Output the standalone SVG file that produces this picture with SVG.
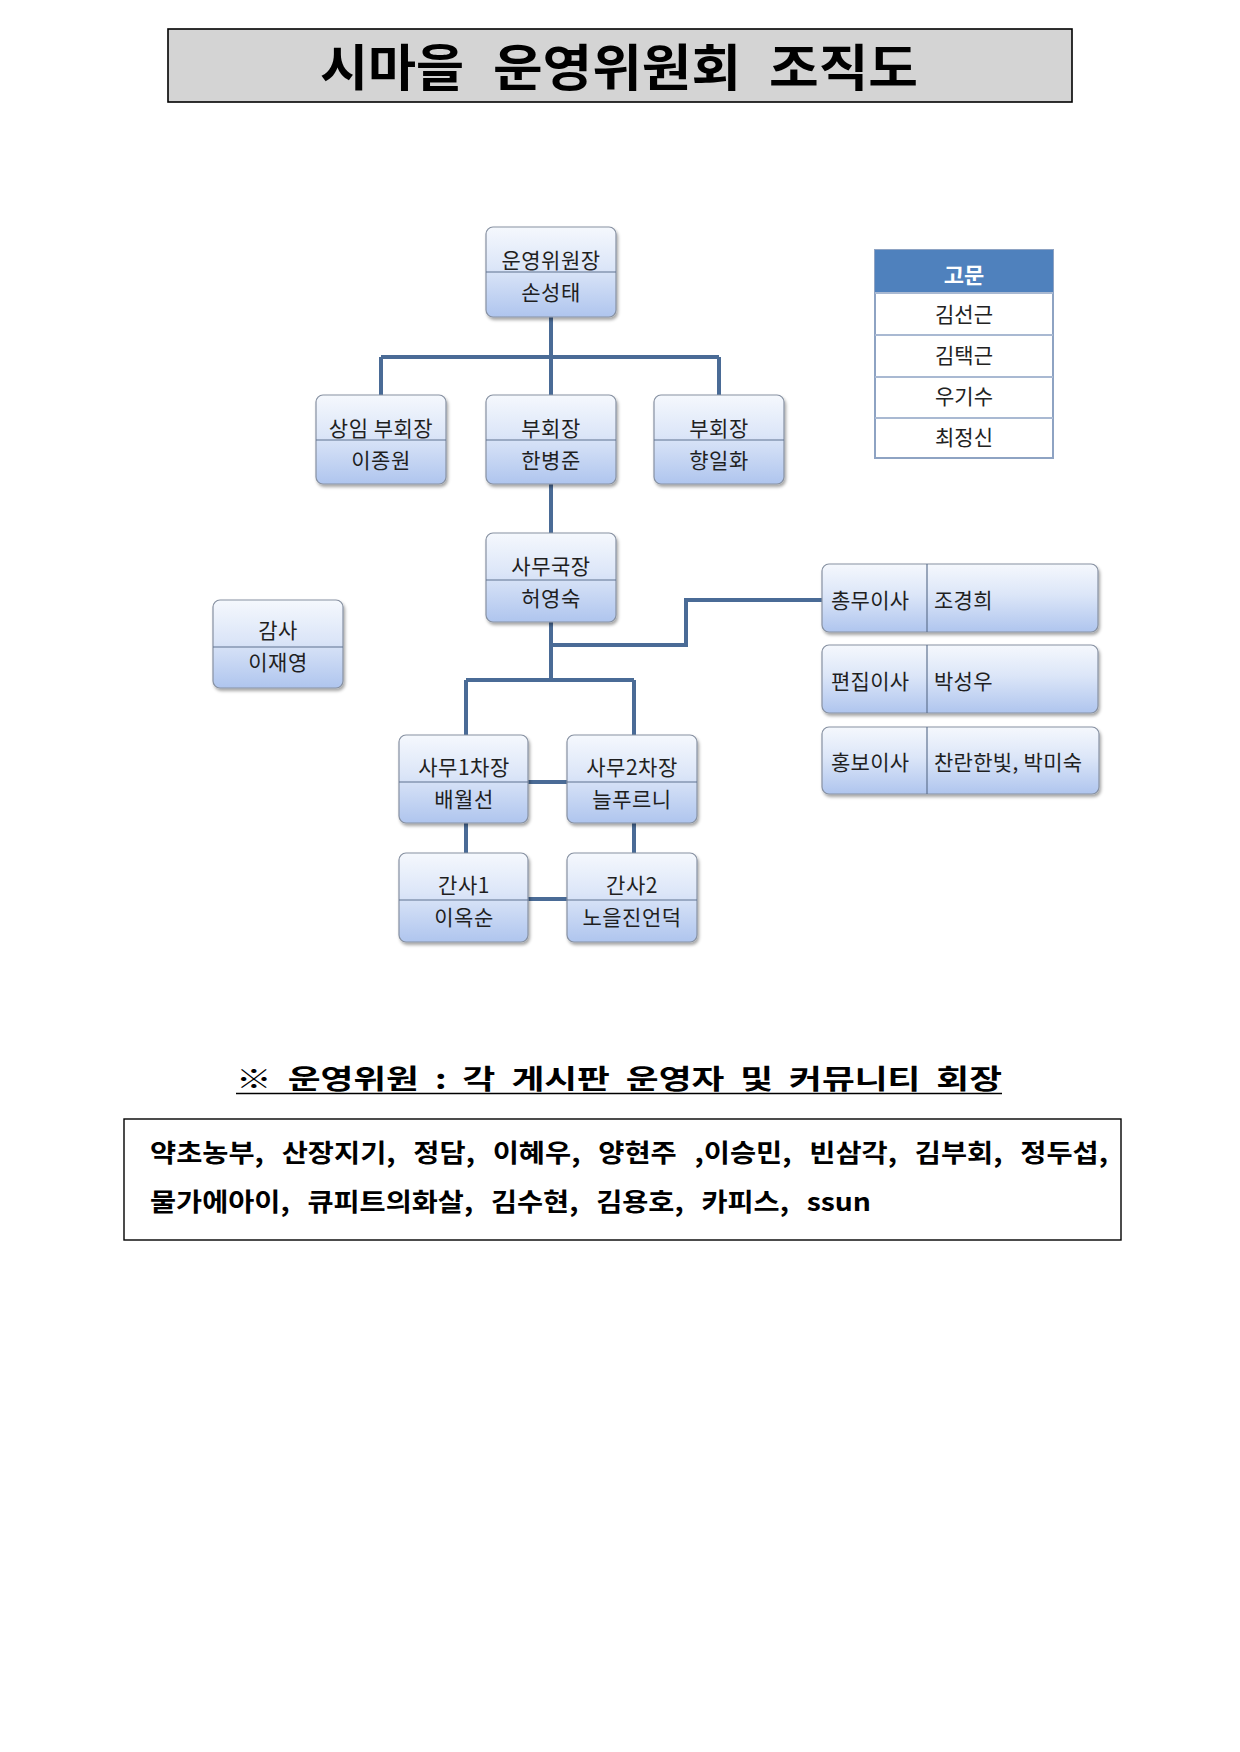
<svg xmlns="http://www.w3.org/2000/svg" width="1240" height="1752" viewBox="0 0 1240 1752">
<defs>
<linearGradient id="ng" x1="0" y1="0" x2="0" y2="1">
<stop offset="0" stop-color="#f5f8fd"/>
<stop offset="0.45" stop-color="#dce6f8"/>
<stop offset="1" stop-color="#afc5ee"/>
</linearGradient>
<filter id="sh" x="-10%" y="-10%" width="125%" height="135%">
<feDropShadow dx="1.5" dy="2.5" stdDeviation="1.6" flood-color="#000" flood-opacity="0.35"/>
</filter>
</defs>
<style>
text{font-family:"Noto Sans CJK KR","Noto Sans CJK SC",sans-serif}
.box{fill:url(#ng);stroke:#8791a2;stroke-width:1.2;filter:url(#sh)}
.dv{stroke:#5f7290;stroke-width:1.2}
.lb{font-size:21px;fill:#1f1f1f;text-anchor:middle;letter-spacing:0.5px}
.ls{font-size:21px;fill:#1f1f1f;letter-spacing:0.3px}
.con{fill:none;stroke:#4a6b96;stroke-width:4}
.gm{font-size:21px;fill:#222;text-anchor:middle}
.row{stroke:#a9b9d2;stroke-width:2}
</style>
<rect width="1240" height="1752" fill="#fff"/>

<g id="title">
<rect x="168" y="29" width="904" height="73" fill="#d4d4d4" stroke="#000" stroke-width="1.6"/>
<text y="86" font-size="50" font-weight="700" fill="#000"><tspan x="320" textLength="144" lengthAdjust="spacingAndGlyphs">시마을</tspan><tspan x="493" textLength="248" lengthAdjust="spacingAndGlyphs">운영위원회</tspan><tspan x="769" textLength="149" lengthAdjust="spacingAndGlyphs">조직도</tspan></text>
</g>

<g id="connectors">
<path class="con" d="M551 317V357M381 357H719M381 357V395M551 357V395M719 357V395"/>
<path class="con" d="M551 484V533"/>
<path class="con" d="M551 622V680M551 645H686V600H822"/>
<path class="con" d="M466 680H634M466 680V735M634 680V735"/>
<path class="con" d="M528 782H567"/>
<path class="con" d="M466 823V853M634 823V853"/>
<path class="con" d="M528 899H567"/>
</g>

<g id="n-chair">
<rect class="box" x="486" y="227" width="130" height="90" rx="7"/>
<line class="dv" x1="486" y1="272" x2="616" y2="272"/>
<text class="lb" x="551" y="268">운영위원장</text>
<text class="lb" x="551" y="300">손성태</text>
</g>

<g id="n-vice1">
<rect class="box" x="316" y="395" width="130" height="89" rx="7"/>
<line class="dv" x1="316" y1="440" x2="446" y2="440"/>
<text class="lb" x="381" y="436">상임 부회장</text>
<text class="lb" x="381" y="468">이종원</text>
</g>

<g id="n-vice2">
<rect class="box" x="486" y="395" width="130" height="89" rx="7"/>
<line class="dv" x1="486" y1="440" x2="616" y2="440"/>
<text class="lb" x="551" y="436">부회장</text>
<text class="lb" x="551" y="468">한병준</text>
</g>

<g id="n-vice3">
<rect class="box" x="654" y="395" width="130" height="89" rx="7"/>
<line class="dv" x1="654" y1="440" x2="784" y2="440"/>
<text class="lb" x="719" y="436">부회장</text>
<text class="lb" x="719" y="468">향일화</text>
</g>

<g id="n-office">
<rect class="box" x="486" y="533" width="130" height="89" rx="7"/>
<line class="dv" x1="486" y1="580" x2="616" y2="580"/>
<text class="lb" x="551" y="574">사무국장</text>
<text class="lb" x="551" y="606">허영숙</text>
</g>

<g id="n-audit">
<rect class="box" x="213" y="600" width="130" height="88" rx="7"/>
<line class="dv" x1="213" y1="647" x2="343" y2="647"/>
<text class="lb" x="278" y="638">감사</text>
<text class="lb" x="278" y="670">이재영</text>
</g>

<g id="n-deputy1">
<rect class="box" x="399" y="735" width="129" height="88" rx="7"/>
<line class="dv" x1="399" y1="782" x2="528" y2="782"/>
<text class="lb" x="464" y="775">사무1차장</text>
<text class="lb" x="464" y="807">배월선</text>
</g>

<g id="n-deputy2">
<rect class="box" x="567" y="735" width="130" height="88" rx="7"/>
<line class="dv" x1="567" y1="782" x2="697" y2="782"/>
<text class="lb" x="632" y="775">사무2차장</text>
<text class="lb" x="632" y="807">늘푸르니</text>
</g>

<g id="n-sec1">
<rect class="box" x="399" y="853" width="129" height="89" rx="7"/>
<line class="dv" x1="399" y1="900" x2="528" y2="900"/>
<text class="lb" x="464" y="893">간사1</text>
<text class="lb" x="464" y="925">이옥순</text>
</g>

<g id="n-sec2">
<rect class="box" x="567" y="853" width="130" height="89" rx="7"/>
<line class="dv" x1="567" y1="900" x2="697" y2="900"/>
<text class="lb" x="632" y="893">간사2</text>
<text class="lb" x="632" y="925">노을진언덕</text>
</g>

<g id="n-general">
<rect class="box" x="822" y="564" width="276" height="68" rx="7"/>
<line class="dv" x1="927" y1="564" x2="927" y2="632"/>
<text class="ls" x="831" y="608">총무이사</text>
<text class="ls" x="934" y="608">조경희</text>
</g>

<g id="n-edit">
<rect class="box" x="822" y="645" width="276" height="68" rx="7"/>
<line class="dv" x1="927" y1="645" x2="927" y2="713"/>
<text class="ls" x="831" y="689">편집이사</text>
<text class="ls" x="934" y="689">박성우</text>
</g>

<g id="n-pr">
<rect class="box" x="822" y="727" width="277" height="67" rx="7"/>
<line class="dv" x1="927" y1="727" x2="927" y2="794"/>
<text class="ls" x="831" y="770">홍보이사</text>
<text class="ls" x="934" y="770">찬란한빛, 박미숙</text>
</g>

<g id="advisors">
<rect x="875" y="250" width="178" height="208" fill="#fff" stroke="#8ea3c3" stroke-width="2"/>
<rect x="875" y="250" width="178" height="43" fill="#4f81bd"/>
<line class="row" x1="875" y1="293" x2="1053" y2="293"/>
<line class="row" x1="875" y1="335" x2="1053" y2="335"/>
<line class="row" x1="875" y1="377" x2="1053" y2="377"/>
<line class="row" x1="875" y1="418" x2="1053" y2="418"/>
<text x="964" y="283" font-size="22" font-weight="700" fill="#fff" text-anchor="middle">고문</text>
<text class="gm" x="964" y="322">김선근</text>
<text class="gm" x="964" y="363">김택근</text>
<text class="gm" x="964" y="404">우기수</text>
<text class="gm" x="964" y="445">최정신</text>
</g>

<g id="members-title">
<text x="236" y="1089" font-size="27" font-weight="700" fill="#000" word-spacing="6" textLength="766" lengthAdjust="spacingAndGlyphs">※ 운영위원 : 각 게시판 운영자 및 커뮤니티 회장</text>
<line x1="236" y1="1093.5" x2="1002" y2="1093.5" stroke="#000" stroke-width="1.6"/>
</g>

<g id="members">
<rect x="124" y="1119" width="997" height="121" fill="#fff" stroke="#000" stroke-width="1.4"/>
<text x="150" y="1162" font-size="25" font-weight="700" fill="#000" word-spacing="10" textLength="958" lengthAdjust="spacingAndGlyphs">약초농부, 산장지기, 정담, 이혜우, 양현주 ,이승민, 빈삼각, 김부회, 정두섭,</text>
<text x="150" y="1211" font-size="25" font-weight="700" fill="#000" word-spacing="10" textLength="721" lengthAdjust="spacingAndGlyphs">물가에아이, 큐피트의화살, 김수현, 김용호, 카피스, ssun</text>
</g>
</svg>
